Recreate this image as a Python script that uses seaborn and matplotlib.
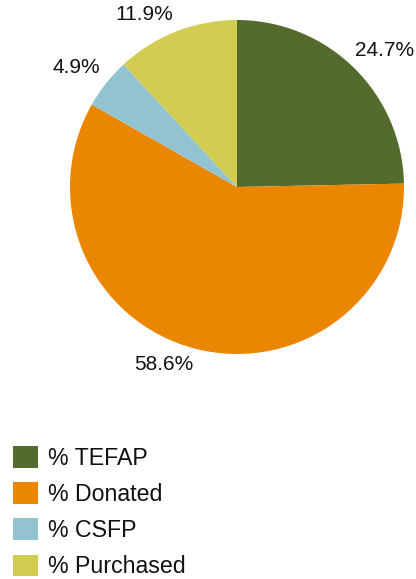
import numpy as np
import matplotlib
matplotlib.use("Agg")
import matplotlib.pyplot as plt
import seaborn as sns

sns.set_theme(style="white")
plt.rcParams['font.family'] = ['Liberation Sans', 'DejaVu Sans']

categories = ["% TEFAP", "% Donated", "% CSFP", "% Purchased"]
values = [24.7, 58.6, 4.9, 11.9]
pct_labels = ["24.7%", "58.6%", "4.9%", "11.9%"]
colors = ["#546B2E", "#EB8600", "#91C3D0", "#D2CC52"]

# label placement style (distance in radii, angular tweak in degrees)
label_dist = [1.204, 1.149, 1.198, 1.171]
label_dang = [-2.9, -8.3, 1.8, 7.0]

W, H = 416, 579
fig = plt.figure(figsize=(W / 100, H / 100), dpi=100)
fig.patch.set_facecolor("white")
cx, cy, r = 237, 187, 167
ax = fig.add_axes([(cx - r) / W, 1 - (cy + r) / H, 2 * r / W, 2 * r / H])
wedges, _ = ax.pie(values, colors=colors, startangle=90, counterclock=False,
                   radius=1, wedgeprops=dict(linewidth=0))
ax.set_xlim(-1, 1)
ax.set_ylim(-1, 1)
ax.set_aspect("equal")
ax.axis("off")

for w, lab, d, da in zip(wedges, pct_labels, label_dist, label_dang):
    mid = np.deg2rad((w.theta1 + w.theta2) / 2 + da)
    ax.text(d * np.cos(mid), d * np.sin(mid), lab, ha="center", va="center",
            fontsize=15, color="#111111", clip_on=False)

leg = fig.legend(wedges, categories, loc="upper left",
                 bbox_to_anchor=(13 / W, 1 - 446 / H), frameon=False,
                 fontsize=16.7, handlelength=1.08, handleheight=1.08,
                 labelspacing=0.53, handletextpad=0.43, borderpad=0,
                 borderaxespad=0)
for t in leg.get_texts():
    t.set_color("#111111")

fig.savefig("out.png", dpi=100, facecolor="white")
